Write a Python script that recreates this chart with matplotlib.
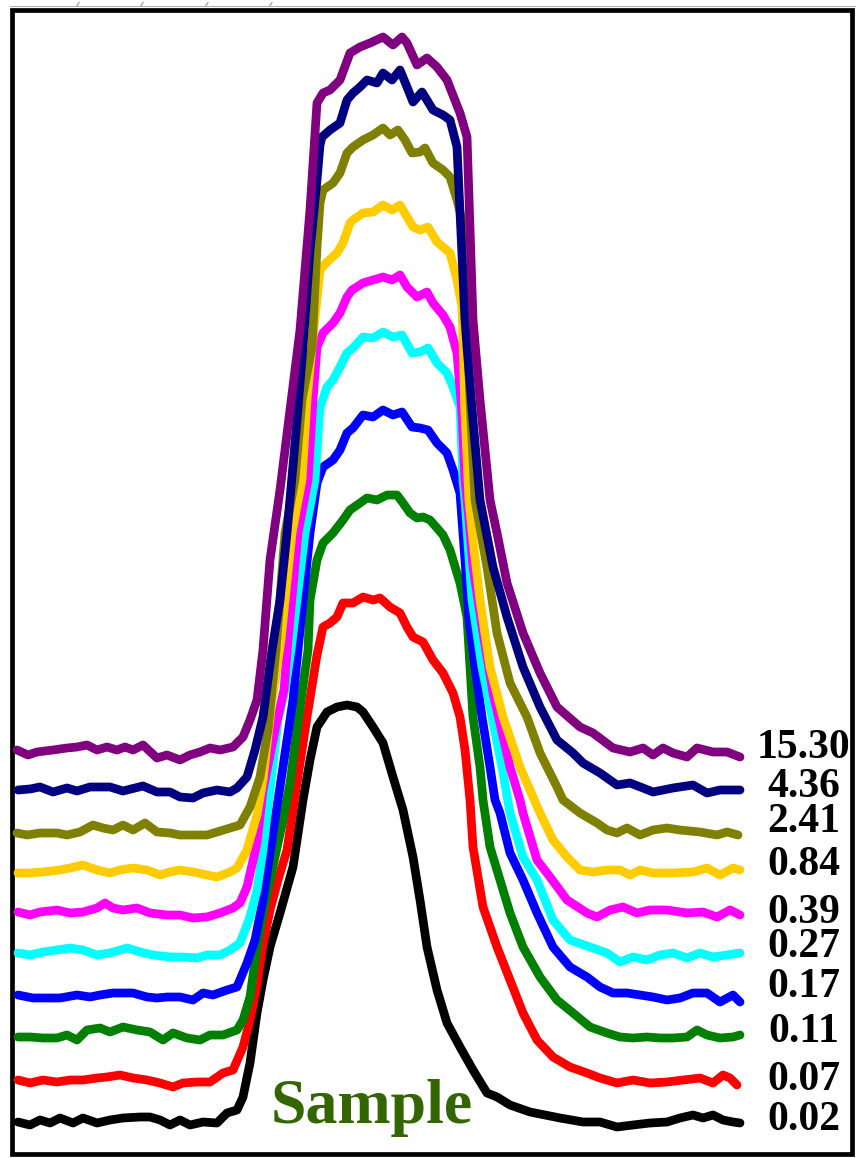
import matplotlib.pyplot as plt
from matplotlib.patches import Rectangle

# stacked profiles, one per concentration (x / y in image units, y grows downward)
x_15_30 = [17, 28, 37, 53, 67, 77, 87, 97, 107, 117, 125, 133, 143, 157, 167, 180, 190, 200, 210, 220,
           233, 243, 250, 257, 263, 270, 280, 290, 300, 310, 317, 323, 330, 340, 350, 360, 370, 383, 393,
           402, 407, 417, 427, 437, 447, 460, 467, 473, 480, 490, 497, 507, 523, 540, 557, 580, 593, 613,
           630, 643, 653, 663, 673, 687, 697, 713, 727, 740]
y_15_30 = [750, 755, 752, 750, 748, 747, 745, 750, 747, 750, 747, 750, 745, 758, 755, 760, 755, 752, 748, 750,
           747, 737, 720, 700, 650, 560, 490, 410, 330, 210, 103, 93, 90, 80, 53, 47, 43, 37, 45,
           37, 43, 65, 58, 67, 80, 113, 137, 320, 400, 500, 533, 583, 633, 673, 707, 727, 733, 748,
           752, 748, 755, 748, 753, 757, 748, 752, 752, 757]

x_4_36 = [18, 30, 40, 53, 67, 77, 90, 110, 123, 143, 157, 170, 180, 193, 203, 217, 230, 237, 247, 255,
          263, 272, 280, 287, 297, 303, 310, 317, 320, 322, 330, 340, 347, 353, 360, 367, 377, 383, 392,
          400, 407, 413, 422, 433, 443, 450, 457, 465, 467, 473, 480, 493, 507, 523, 540, 557, 573, 583,
          600, 617, 630, 643, 653, 673, 693, 707, 720, 740]
y_4_36 = [790, 789, 787, 792, 788, 791, 787, 787, 791, 786, 792, 792, 797, 798, 793, 790, 792, 788, 777, 750,
          717, 650, 600, 533, 420, 347, 250, 180, 145, 137, 130, 123, 100, 93, 87, 80, 83, 73, 80,
          70, 87, 102, 92, 110, 115, 120, 147, 320, 347, 420, 500, 567, 617, 667, 707, 740, 753, 763,
          773, 785, 783, 788, 792, 788, 785, 793, 790, 790]

x_2_41 = [17, 27, 40, 57, 67, 80, 93, 103, 113, 123, 133, 145, 157, 170, 180, 193, 207, 217, 230, 240,
          250, 260, 268, 276, 285, 295, 302, 312, 317, 320, 323, 333, 340, 347, 353, 363, 373, 383, 390,
          398, 405, 412, 420, 425, 433, 443, 450, 457, 462, 467, 470, 475, 487, 497, 510, 527, 540, 557,
          563, 580, 597, 607, 617, 627, 640, 653, 667, 680, 700, 717, 727, 738]
y_2_41 = [833, 835, 833, 833, 835, 832, 825, 828, 830, 825, 830, 823, 832, 833, 835, 835, 835, 832, 828, 825,
          807, 777, 730, 650, 533, 480, 400, 347, 247, 203, 190, 183, 173, 153, 147, 140, 135, 128, 135,
          130, 140, 153, 152, 148, 163, 170, 177, 200, 220, 320, 400, 500, 567, 633, 683, 717, 753, 787,
          800, 813, 823, 830, 833, 828, 835, 830, 828, 830, 832, 835, 832, 835]

x_0_84 = [18, 30, 43, 60, 70, 83, 97, 110, 120, 133, 147, 160, 170, 180, 193, 207, 217, 230, 237, 247,
          257, 263, 272, 281, 292, 302, 307, 312, 320, 327, 337, 343, 350, 353, 363, 373, 383, 392, 400,
          413, 420, 428, 437, 443, 450, 457, 462, 465, 469, 473, 480, 490, 503, 520, 533, 540, 553, 567,
          580, 593, 607, 620, 630, 640, 653, 673, 693, 707, 720, 733, 740]
y_0_84 = [873, 873, 872, 870, 868, 865, 870, 873, 870, 868, 870, 875, 872, 870, 872, 875, 877, 872, 868, 850,
          815, 780, 700, 640, 533, 480, 400, 347, 270, 262, 253, 243, 223, 220, 213, 212, 205, 210, 205,
          227, 230, 227, 242, 247, 253, 280, 307, 413, 500, 540, 600, 667, 717, 767, 797, 813, 840, 857,
          870, 872, 870, 870, 875, 870, 873, 873, 872, 868, 875, 868, 870]

x_0_39 = [18, 30, 40, 57, 70, 83, 97, 105, 113, 123, 137, 150, 167, 180, 193, 207, 220, 233, 240, 247,
          257, 263, 275, 284, 288, 298, 308, 313, 317, 323, 333, 340, 347, 352, 363, 373, 383, 392, 400,
          407, 417, 427, 433, 443, 450, 457, 462, 465, 469, 473, 483, 493, 510, 520, 523, 537, 550, 567,
          587, 597, 610, 623, 637, 650, 667, 687, 703, 717, 730, 740]
y_0_39 = [912, 915, 912, 910, 913, 912, 908, 903, 908, 910, 908, 913, 915, 915, 918, 917, 913, 908, 903, 887,
          843, 790, 730, 690, 640, 533, 480, 400, 347, 333, 323, 313, 297, 290, 283, 280, 277, 280, 275,
          287, 297, 292, 303, 315, 327, 353, 413, 480, 520, 567, 633, 693, 767, 800, 813, 860, 877, 900,
          913, 917, 910, 907, 913, 910, 910, 913, 912, 917, 910, 915]

x_0_27 = [18, 30, 43, 57, 70, 83, 97, 110, 127, 140, 153, 170, 183, 197, 207, 220, 230, 240, 250, 257,
          263, 270, 278, 285, 291, 305, 315, 320, 327, 333, 340, 347, 353, 363, 373, 383, 393, 402, 412,
          420, 428, 437, 447, 453, 460, 463, 465, 472, 482, 492, 502, 510, 523, 537, 553, 570, 590, 607,
          620, 633, 647, 660, 673, 687, 700, 713, 727, 740]
y_0_27 = [953, 955, 952, 950, 948, 950, 955, 953, 948, 952, 955, 957, 957, 958, 955, 955, 950, 943, 917, 890,
          850, 790, 720, 690, 650, 533, 480, 407, 387, 380, 367, 353, 348, 337, 338, 332, 337, 335, 353,
          352, 348, 363, 373, 387, 407, 480, 500, 600, 667, 717, 767, 813, 857, 880, 920, 940, 947, 953,
          962, 957, 960, 955, 953, 958, 953, 957, 955, 953]

x_0_17 = [18, 33, 47, 60, 77, 90, 100, 113, 123, 133, 147, 157, 167, 180, 193, 203, 213, 227, 237, 247,
          255, 263, 273, 283, 293, 298, 310, 317, 323, 333, 340, 347, 353, 363, 373, 383, 393, 402, 412,
          420, 428, 437, 447, 453, 460, 462, 465, 469, 475, 482, 490, 495, 500, 510, 523, 537, 553, 570,
          587, 600, 613, 627, 640, 653, 667, 680, 693, 707, 720, 733, 740]
y_0_17 = [995, 998, 998, 998, 995, 997, 995, 993, 993, 993, 997, 998, 997, 997, 1000, 993, 995, 990, 987, 963,
          940, 900, 833, 767, 700, 650, 533, 483, 467, 460, 450, 433, 428, 415, 417, 410, 415, 412, 427,
          428, 430, 443, 453, 470, 493, 520, 560, 620, 667, 717, 767, 800, 813, 853, 880, 913, 947, 967,
          977, 987, 993, 993, 995, 997, 1000, 998, 993, 993, 1002, 995, 1002]

x_0_11 = [18, 30, 43, 57, 67, 77, 87, 100, 110, 123, 137, 150, 163, 173, 187, 200, 210, 223, 237, 243,
          250, 257, 263, 270, 283, 290, 301, 308, 310, 317, 323, 333, 343, 350, 360, 367, 377, 387, 397,
          403, 410, 417, 423, 430, 437, 443, 450, 460, 467, 470, 473, 480, 483, 490, 500, 510, 523, 540,
          557, 573, 590, 607, 620, 633, 647, 660, 673, 687, 697, 707, 720, 733, 740]
y_0_11 = [1037, 1037, 1038, 1038, 1035, 1040, 1030, 1028, 1032, 1027, 1030, 1032, 1040, 1033, 1038, 1040, 1035, 1035, 1030, 1020,
          997, 947, 913, 880, 820, 783, 700, 650, 600, 560, 543, 533, 520, 510, 503, 498, 500, 495, 495,
          503, 513, 518, 517, 520, 528, 535, 550, 583, 617, 667, 717, 767, 800, 847, 880, 913, 947, 977,
          1000, 1013, 1027, 1033, 1037, 1038, 1037, 1038, 1038, 1037, 1030, 1035, 1038, 1037, 1035]

x_0_07 = [18, 30, 43, 57, 70, 83, 97, 107, 120, 133, 147, 160, 173, 183, 197, 210, 223, 233, 243, 250,
          257, 262, 270, 278, 287, 297, 307, 317, 323, 330, 337, 343, 353, 363, 373, 380, 390, 400, 407,
          413, 423, 433, 443, 453, 460, 465, 470, 473, 483, 497, 510, 523, 537, 553, 570, 587, 600, 617,
          633, 650, 667, 683, 700, 713, 723, 730, 737]
y_0_07 = [1080, 1083, 1080, 1082, 1080, 1080, 1078, 1077, 1075, 1078, 1080, 1083, 1087, 1083, 1082, 1082, 1073, 1070, 1047, 1020,
          985, 950, 910, 880, 850, 783, 717, 655, 627, 623, 617, 603, 603, 597, 600, 598, 607, 613, 627,
          637, 642, 660, 673, 693, 717, 750, 800, 847, 907, 947, 980, 1013, 1040, 1057, 1067, 1073, 1078, 1083,
          1080, 1083, 1082, 1080, 1078, 1083, 1075, 1078, 1085]

x_0_02 = [18, 30, 40, 50, 60, 73, 83, 97, 110, 123, 140, 150, 160, 170, 180, 190, 203, 217, 227, 237,
          243, 250, 257, 263, 270, 280, 293, 303, 310, 317, 327, 337, 347, 357, 363, 373, 383, 393, 403,
          413, 420, 427, 437, 447, 460, 473, 487, 497, 510, 530, 560, 583, 600, 617, 633, 650, 667, 680,
          693, 703, 713, 723, 733, 740]
y_0_02 = [1122, 1125, 1120, 1123, 1118, 1123, 1118, 1123, 1120, 1118, 1117, 1117, 1120, 1125, 1120, 1125, 1122, 1123, 1113, 1110,
          1097, 1063, 1013, 980, 947, 913, 867, 800, 760, 727, 712, 707, 705, 707, 712, 727, 743, 777, 810,
          857, 900, 947, 990, 1023, 1047, 1070, 1093, 1097, 1105, 1112, 1118, 1122, 1122, 1127, 1125, 1123, 1122, 1118,
          1115, 1118, 1115, 1120, 1122, 1123]

labels = ["0.02", "0.07", "0.11", "0.17", "0.27", "0.39", "0.84", "2.41", "4.36", "15.30"]
colors = ["black", "#ff0000", "#008000", "#0000ff", "#00ffff", "#ff00ff", "#ffcc00", "#808000", "#000080", "#800080"]
xs = [x_0_02, x_0_07, x_0_11, x_0_17, x_0_27, x_0_39, x_0_84, x_2_41, x_4_36, x_15_30]
ys = [y_0_02, y_0_07, y_0_11, y_0_17, y_0_27, y_0_39, y_0_84, y_2_41, y_4_36, y_15_30]
label_base = [1130, 1090, 1042, 997, 957, 923, 875, 832, 797, 758]

# faint ruler marks above the frame
top_ticks = [78, 142, 207, 271]

fig = plt.figure(figsize=(8.56, 11.58), dpi=100)
ax = fig.add_axes([0, 0, 1, 1])
ax.set_xlim(0, 856)
ax.set_ylim(1158, 0)
ax.axis('off')

ax.plot([10, 856], [5.5, 5.5], color='#b0b0b0', linewidth=0.8)
for t in top_ticks:
    ax.plot([t - 1, t + 1], [5.5, 2.5], color='#909090', linewidth=0.8)

# outer frame
ax.add_patch(Rectangle((12, 10), 840, 1144, fill=False, edgecolor='black', linewidth=3.4))

for x, y, c in zip(xs, ys, colors):
    ax.plot(x, y, color=c, linewidth=6.3, solid_joinstyle='round', solid_capstyle='round')

for lab, yb in zip(labels, label_base):
    ax.text(804, yb, lab, ha='center', va='baseline', fontsize=30, fontweight='bold',
            family='Liberation Serif', color='black')

ax.text(372, 1123, "Sample", ha='center', va='baseline', fontsize=46, fontweight='bold',
        family='Liberation Serif', color='#336600')

plt.savefig("out.png", dpi=100)
